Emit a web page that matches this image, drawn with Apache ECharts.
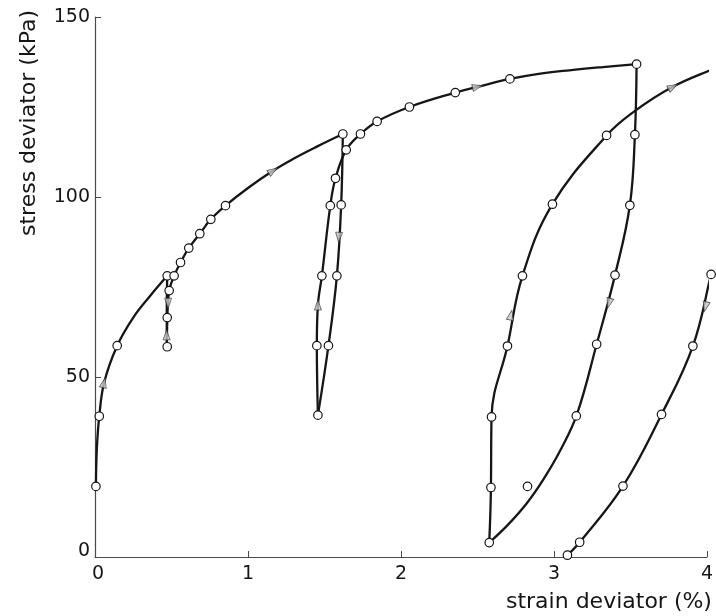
<!DOCTYPE html>
<html>
<head>
<meta charset="utf-8">
<script src="https://cdn.jsdelivr.net/npm/echarts@6/dist/echarts.min.js"></script>
<style>
  html, body { margin: 0; padding: 0; background: #fff; }
  #chart { width: 716px; height: 616px; }
</style>
</head>
<body>
<div id="chart"></div>
<script>
// ---- axis ticks ----
const xTicks = [0, 1, 2, 3, 4];
const yTicks = [0, 50, 100, 150];

// ---- fitted curves (strain %, stress kPa) ----
const load1X = [0.006, 0.012, 0.028, 0.060, 0.145, 0.25, 0.36, 0.472];
const load1Y = [19.6, 30.0, 39.1, 48.5, 58.7, 66.5, 72.5, 78.1];

const unload1X = [0.472, 0.469, 0.470];
const unload1Y = [78.1, 68.0, 58.4];

const reload1X = [0.470, 0.473, 0.485, 0.517, 0.559, 0.613, 0.685, 0.757, 0.853, 1.0, 1.163, 1.30, 1.45, 1.620];
const reload1Y = [58.4, 66.5, 74.0, 78.1, 81.8, 85.8, 89.8, 93.8, 97.6, 102.5, 107.3, 110.7, 114.0, 117.5];

const unload2X = [1.620, 1.609, 1.581, 1.526, 1.457];
const unload2Y = [117.5, 97.8, 78.1, 58.7, 39.4];

const reload2X = [1.457, 1.450, 1.457, 1.483, 1.538, 1.572, 1.642, 1.735, 1.844, 2.055, 2.355, 2.500, 2.712, 2.90, 3.10, 3.32, 3.540];
const reload2Y = [39.4, 58.7, 70.0, 78.1, 97.6, 105.2, 113.1, 117.5, 121.0, 125.0, 129.0, 130.6, 132.8, 134.2, 135.2, 136.1, 136.9];

const unload3X = [3.540, 3.529, 3.496, 3.399, 3.279, 3.150, 3.040, 2.930, 2.820, 2.700, 2.577];
const unload3Y = [136.9, 117.3, 97.7, 78.3, 59.1, 39.6, 29.5, 21.5, 14.8, 9.0, 4.0];

const reload3X = [2.577, 2.584, 2.588, 2.592, 2.696, 2.794, 2.990, 3.344, 3.523, 3.777, 4.054, 4.15];
const reload3Y = [4.0, 12.0, 19.3, 38.9, 58.6, 78.1, 98.0, 117.1, 123.7, 130.6, 135.8, 137.6];

const unload4X = [4.12, 4.054, 4.027, 3.908, 3.703, 3.451, 3.168, 3.088];
const unload4Y = [96.0, 83.5, 78.5, 58.6, 39.6, 19.7, 4.1, 0.5];

// ---- measured points (open circles) ----
const pointX = [0.006, 0.028, 0.145, 0.472, 0.485, 0.472, 0.472, 0.517,
  0.559, 0.613, 0.685, 0.757, 0.853, 1.620,
  1.609, 1.581, 1.526, 1.457, 1.450, 1.483, 1.538, 1.572, 1.642, 1.735, 1.844, 2.055, 2.355, 2.712, 3.540,
  3.529, 3.496, 3.399, 3.279, 3.146, 2.577, 2.588, 2.592, 2.696, 2.794, 2.990, 3.344, 2.827,
  4.027, 3.908, 3.703, 3.451, 3.168, 3.088];
const pointY = [19.6, 39.1, 58.7, 78.1, 74.0, 66.5, 58.4, 78.1,
  81.8, 85.8, 89.8, 93.8, 97.6, 117.5,
  97.8, 78.1, 58.7, 39.4, 58.7, 78.1, 97.6, 105.2, 113.1, 117.5, 121.0, 125.0, 129.0, 132.8, 136.9,
  117.3, 97.7, 78.3, 59.1, 39.2, 4.0, 19.3, 38.9, 58.6, 78.1, 98.0, 117.1, 19.6,
  78.5, 58.6, 39.6, 19.7, 4.1, 0.5];

// ---- direction arrows (heading in degrees, counter-clockwise from "up") ----
const arrowX = [0.059, 0.478, 0.468, 1.163, 1.594, 1.457, 2.500, 3.360, 2.718, 3.777, 3.990];
const arrowY = [48.4, 70.5, 61.7, 107.3, 88.8, 70.0, 130.6, 70.5, 67.2, 130.6, 69.5];
const arrowHeading = [-14, 180, 0, -57, 177, 0, -76, 165, -12, -62, 166];

const pairs = (xs, ys) => xs.map((x, i) => [x, ys[i]]);

const FONT = 'DejaVu Sans';
const INK = '#161616';
const AXIS = '#4a4a4a';

const curves = [
  [load1X, load1Y], [unload1X, unload1Y], [reload1X, reload1Y],
  [unload2X, unload2Y], [reload2X, reload2Y],
  [unload3X, unload3Y], [reload3X, reload3Y],
  [unload4X, unload4Y]
];

const series = curves.map(([xs, ys]) => ({
  type: 'line',
  data: pairs(xs, ys),
  smooth: 0.4,
  showSymbol: false,
  clip: false,
  silent: true,
  lineStyle: { color: INK, width: 2.3 },
  z: 2
}));

series.push({
  type: 'scatter',
  data: arrowX.map((x, i) => ({ value: [x, arrowY[i]], symbolRotate: arrowHeading[i] })),
  symbol: 'triangle',
  symbolSize: [7, 10],
  clip: false,
  itemStyle: { color: '#c8c8c8', borderColor: '#333', borderWidth: 0.8 },
  z: 3
});

series.push({
  type: 'scatter',
  data: pairs(pointX, pointY),
  symbol: 'circle',
  symbolSize: 8.5,
  clip: false,
  itemStyle: { color: '#ffffff', borderColor: INK, borderWidth: 1.2, opacity: 1 },
  z: 4
});

const chart = echarts.init(document.getElementById('chart'), null, { renderer: 'canvas' });
chart.setOption({
  animation: false,
  backgroundColor: '#ffffff',
  grid: { left: 95, right: 8, top: 17, bottom: 59 },
  xAxis: {
    type: 'value',
    min: xTicks[0],
    max: xTicks[xTicks.length - 1],
    interval: xTicks[1] - xTicks[0],
    axisLine: { lineStyle: { color: AXIS, width: 1.2 } },
    axisTick: { inside: true, length: 6, lineStyle: { color: AXIS, width: 1 } },
    splitLine: { show: false },
    axisLabel: {
      fontFamily: FONT, fontSize: 19, color: INK, margin: 8,
      formatter: v => (v === 0 ? '{z|0}' : String(v)),
      rich: { z: { fontFamily: FONT, fontSize: 19, color: INK, padding: [0, 0, 0, 6] } }
    },
    name: 'strain deviator (%)',
    nameLocation: 'end',
    nameGap: 5,
    nameTextStyle: {
      fontFamily: FONT, fontSize: 22, color: INK,
      align: 'right', verticalAlign: 'top', padding: [34, 0, 0, 0]
    }
  },
  yAxis: {
    type: 'value',
    min: yTicks[0],
    max: yTicks[yTicks.length - 1],
    interval: yTicks[1] - yTicks[0],
    axisLine: { show: true, lineStyle: { color: AXIS, width: 1.2 } },
    axisTick: { show: true, inside: true, length: 6, lineStyle: { color: AXIS, width: 1 } },
    splitLine: { show: false },
    axisLabel: {
      fontFamily: FONT, fontSize: 19, color: INK, margin: 5,
      formatter: v => (v === 0 ? '{z|0}' : String(v)),
      rich: { z: { fontFamily: FONT, fontSize: 19, color: INK, padding: [0, 0, 12, 0] } }
    },
    name: 'stress deviator (kPa)',
    nameLocation: 'end',
    nameRotate: 90,
    nameGap: 7,
    nameTextStyle: {
      fontFamily: FONT, fontSize: 22, color: INK,
      align: 'right', verticalAlign: 'bottom', padding: [0, 0, 55, 0]
    }
  },
  series: series
});
</script>
</body>
</html>
